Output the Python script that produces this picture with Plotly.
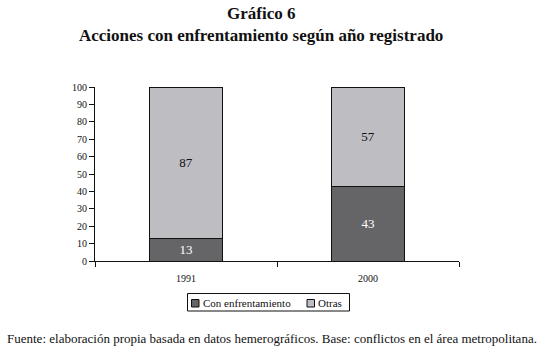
import plotly.graph_objects as go

years = ["1991", "2000"]
con_enfrentamiento = [13, 43]
otras = [87, 57]
y_ticks = [0, 10, 20, 30, 40, 50, 60, 70, 80, 90, 100]
series_names = ["Con enfrentamiento", "Otras"]
series_colors = ["#656567", "#bdbdc2"]

FONT = "'Liberation Serif', 'Times New Roman', serif"

# plot-area pixel geometry helpers (plot area: x 95..459, y 87..261)
L, R, T, B = 95, 459, 87, 261
def px(x):
    return (x - L) / (R - L)
def py(y):
    return (B - y) / (B - T)

fig = go.Figure()
fig.add_trace(go.Bar(
    x=years, y=con_enfrentamiento, name=series_names[0], showlegend=False,
    marker=dict(color=series_colors[0], line=dict(color="#111111", width=1)),
    text=[str(v) for v in con_enfrentamiento], textposition="inside",
    insidetextanchor="middle", textfont=dict(color="white", size=13, family=FONT),
    width=0.4,
))
fig.add_trace(go.Bar(
    x=years, y=otras, name=series_names[1], showlegend=False,
    marker=dict(color=series_colors[1], line=dict(color="#111111", width=1)),
    text=[str(v) for v in otras], textposition="inside",
    insidetextanchor="middle", textfont=dict(color="#111111", size=13, family=FONT),
    width=0.4,
))

shapes = [
    dict(type="rect", xref="paper", yref="paper", x0=px(187.5), x1=px(349.5), y0=py(311), y1=py(293.5),
         line=dict(color="#111111", width=1), fillcolor="white"),
    dict(type="rect", xref="paper", yref="paper", x0=px(191.5), x1=px(199), y0=py(307), y1=py(299.5),
         line=dict(color="#111111", width=1), fillcolor=series_colors[0]),
    dict(type="rect", xref="paper", yref="paper", x0=px(307), x1=px(314.5), y0=py(307), y1=py(299.5),
         line=dict(color="#111111", width=1), fillcolor=series_colors[1]),
]

annotations = [
    dict(text="<b>Gráfico 6</b>", xref="paper", yref="paper", x=px(261), y=py(13),
         showarrow=False, font=dict(size=17, family=FONT), xanchor="center", yanchor="middle"),
    dict(text="<b>Acciones con enfrentamiento según año registrado</b>", xref="paper", yref="paper",
         x=px(261), y=py(36),
         showarrow=False, font=dict(size=17, family=FONT), xanchor="center", yanchor="middle"),
    dict(text="Fuente: elaboración propia basada en datos hemerográficos. Base: conflictos en el área metropolitana.",
         xref="paper", yref="paper", x=px(272), y=py(338),
         showarrow=False, font=dict(size=13, family=FONT), xanchor="center", yanchor="middle"),
    dict(text=series_names[0], xref="paper", yref="paper", x=px(201), y=py(303),
         showarrow=False, font=dict(size=11, family=FONT), xanchor="left", yanchor="middle"),
    dict(text=series_names[1], xref="paper", yref="paper", x=px(316), y=py(303),
         showarrow=False, font=dict(size=11, family=FONT), xanchor="left", yanchor="middle"),
]

fig.update_layout(
    barmode="stack",
    width=545, height=353,
    margin=dict(l=L, r=545 - R, t=T, b=353 - B),
    plot_bgcolor="white", paper_bgcolor="white",
    font=dict(family=FONT, color="#111111"),
    showlegend=False,
    xaxis=dict(
        showline=True, linecolor="#111111", linewidth=1,
        ticks="outside", tickson="boundaries", ticklen=5, tickcolor="#111111",
        tickfont=dict(size=10, family=FONT), showgrid=False,
        ticklabelstandoff=8,
    ),
    yaxis=dict(
        range=[0, 100], tickvals=y_ticks,
        showline=True, linecolor="#111111", linewidth=1,
        ticks="outside", ticklen=5, tickcolor="#111111",
        tickfont=dict(size=10, family=FONT), showgrid=False, zeroline=False,
    ),
    shapes=shapes,
    annotations=annotations,
)
fig.update_traces(cliponaxis=False)

fig.write_html("out.html", config={"displayModeBar": False},
               post_script="document.body.style.margin='0';")
